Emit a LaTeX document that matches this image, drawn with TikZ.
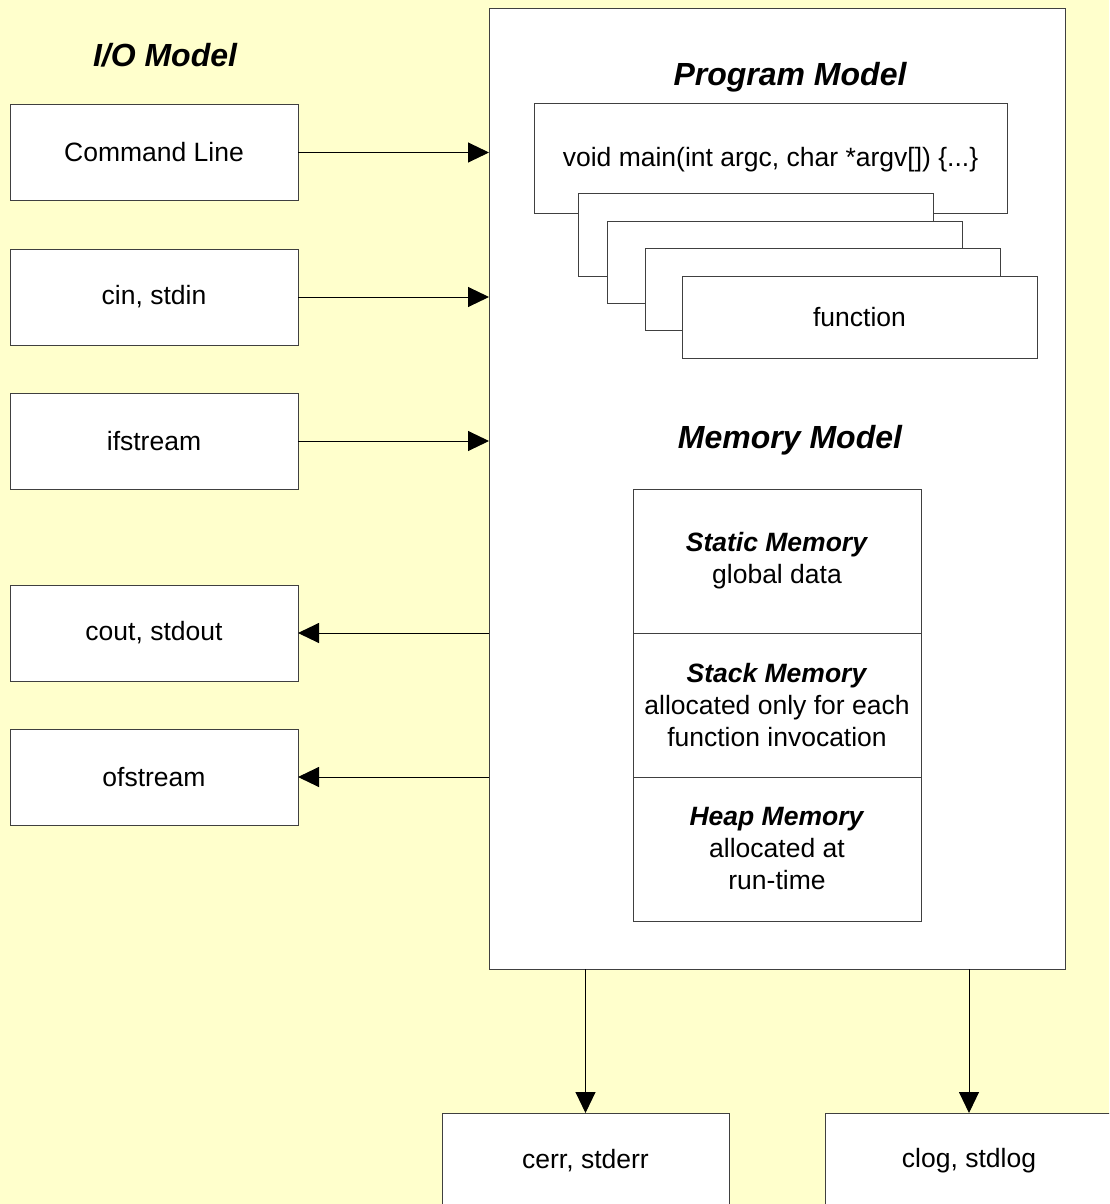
\documentclass[tikz,border=0pt]{standalone}
\usepackage{fontspec}
\setmainfont{Liberation Sans}
\usetikzlibrary{arrows.meta}
\definecolor{bgyellow}{HTML}{FFFFCC}
\definecolor{edge}{HTML}{404040}
\tikzset{
  box/.style={draw=edge, line width=1pt, fill=white, inner sep=0pt, outer sep=0pt,
    font=\fontsize{26.5}{32}\selectfont, align=center},
  title/.style={font=\fontsize{32}{36}\selectfont\bfseries\itshape, inner sep=0pt},
  conn/.style={draw=black, line width=1pt, -{Triangle[length=21pt,width=20pt]}},
}
\begin{document}
\begin{tikzpicture}[x=1pt,y=-1pt]
\fill[bgyellow] (0,0) rectangle (1109,1204);
\useasboundingbox (0,0) rectangle (1109,1204);
\clip (0,0) rectangle (1109,1204);

% I/O model
\node[title] (iotitle) at (165,55) {I/O Model};
\node[box, minimum width=288pt, minimum height=96pt] (cmd) at (154,152.5) {Command Line};
\node[box, minimum width=288pt, minimum height=96pt] (cin) at (154,297) {cin, stdin};
\node[box, minimum width=288pt, minimum height=96pt] (ifs) at (154,441) {ifstream};
\node[box, minimum width=288pt, minimum height=96pt] (cout) at (154,633) {cout, stdout};
\node[box, minimum width=288pt, minimum height=96pt] (ofs) at (154,777) {ofstream};

% Program box
\node[box, minimum width=576pt, minimum height=960pt] (prog) at (777,489) {};
\node[title] (progtitle) at (790,77) {Program Model};
\node[box, minimum width=473pt, minimum height=109pt] (mainf) at (770.5,158.5) {};
\node[font=\fontsize{26.5}{32}\selectfont, inner sep=0pt] (maintext) at (770.5,160) {void main(int argc, char *argv[]) \{...\}};
\node[box, minimum width=355pt, minimum height=83pt] (f1) at (756,234.5) {};
\node[box, minimum width=355pt, minimum height=82pt] (f2) at (785,262) {};
\node[box, minimum width=355pt, minimum height=82pt] (f3) at (822.5,289.5) {};
\node[box, minimum width=355pt, minimum height=82pt] (f4) at (859.5,317) {function};

% Memory model
\node[title] (memtitle) at (790,440) {Memory Model};
\node[box, minimum width=288pt, minimum height=144pt] (static) at (777,561) {\textbf{\textit{Static Memory}}\\global data};
\node[box, minimum width=288pt, minimum height=144pt] (stack) at (777,705) {\textbf{\textit{Stack Memory}}\\allocated only for each\\function invocation};
\node[box, minimum width=288pt, minimum height=144pt] (heap) at (777,849) {\textbf{\textit{Heap Memory}}\\allocated at\\run-time};

% Output boxes
\node[box, minimum width=287pt, minimum height=96pt] (cerr) at (585.5,1161) {cerr, stderr};
\node[box, minimum width=288pt, minimum height=96pt] (clog) at (969,1161) {clog, stdlog};

% Connectors
\draw[conn] (cmd.east) -- (cmd.east -| prog.west);
\draw[conn] (cin.east) -- (cin.east -| prog.west);
\draw[conn] (ifs.east) -- (ifs.east -| prog.west);
\draw[conn] (cout.east -| prog.west) -- (cout.east);
\draw[conn] (ofs.east -| prog.west) -- (ofs.east);
\draw[conn] (prog.south -| cerr.north) -- (cerr.north);
\draw[conn] (prog.south -| clog.north) -- (clog.north);
\end{tikzpicture}
\end{document}
